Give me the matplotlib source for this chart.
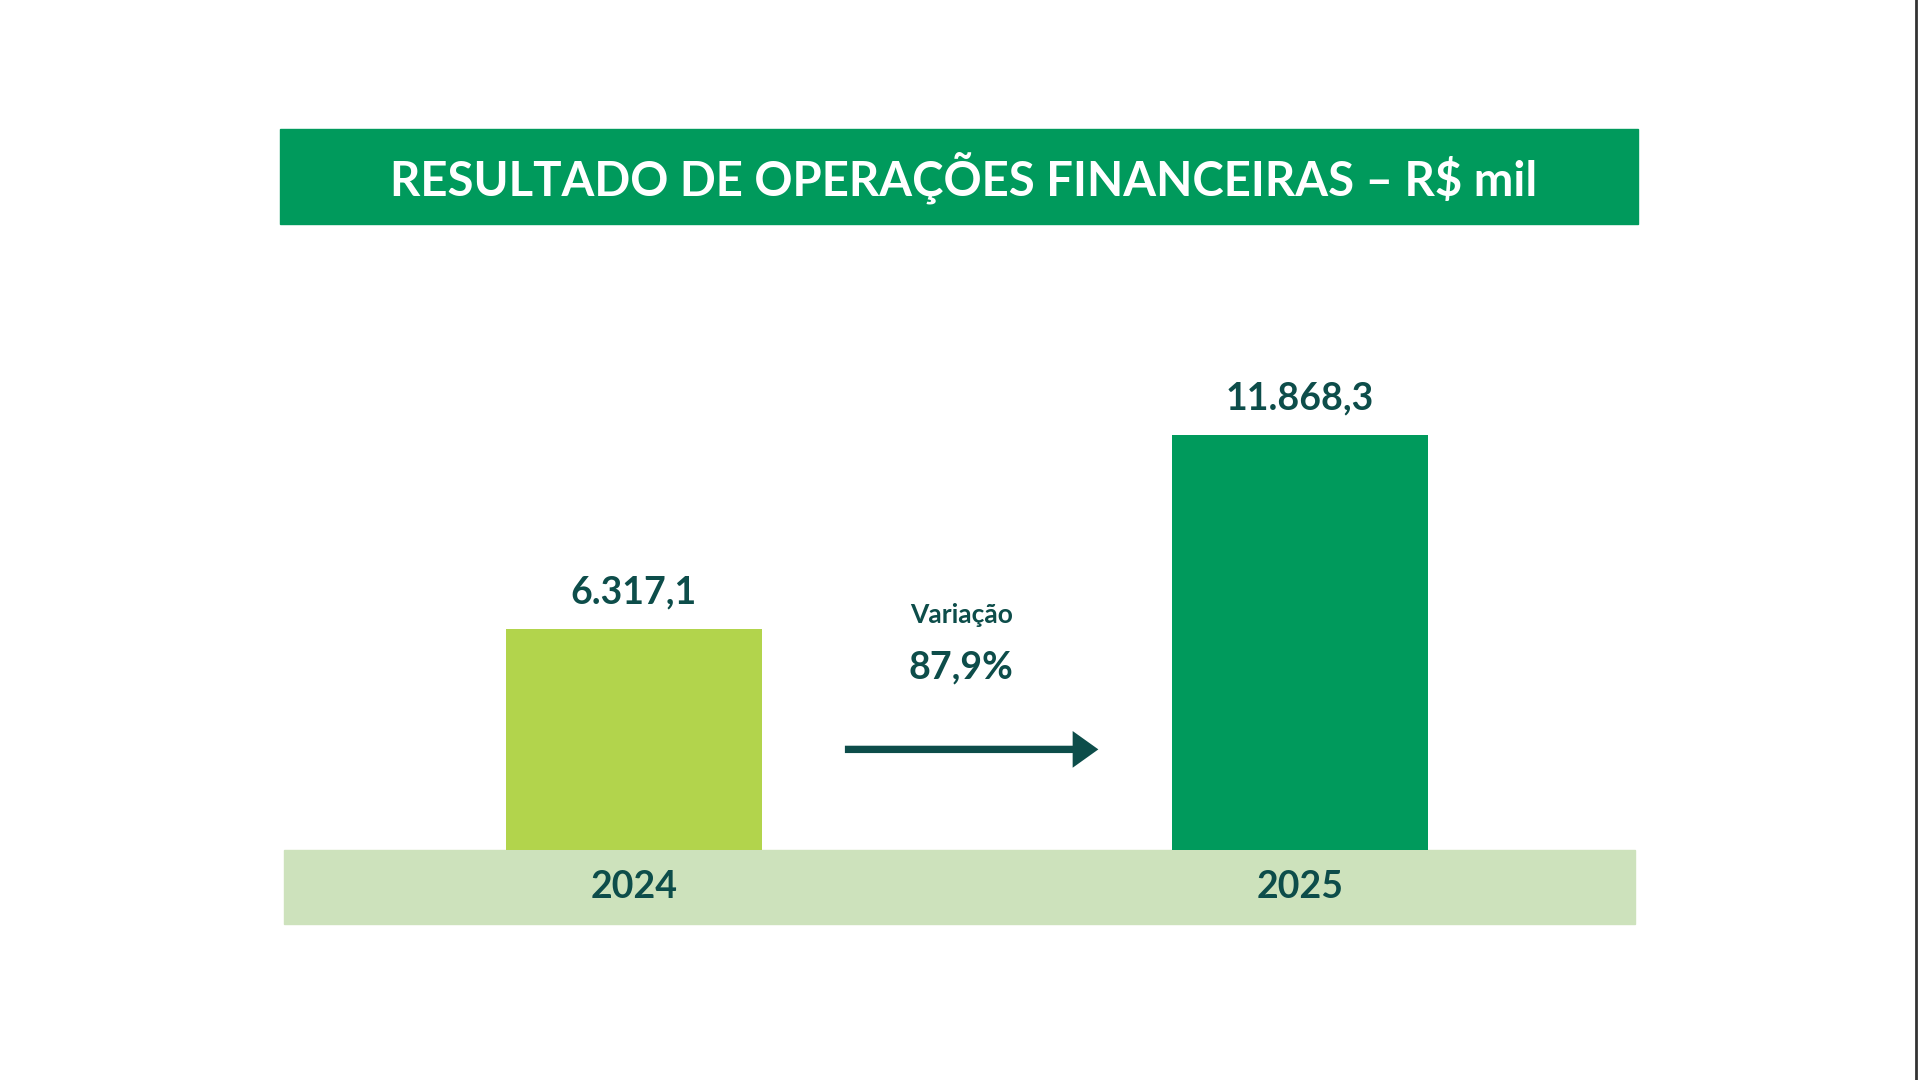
import matplotlib.pyplot as plt
from matplotlib.patches import Rectangle, FancyArrow

years = ["2024", "2025"]
values = [6317.1, 11868.3]
value_labels = ["6.317,1", "11.868,3"]
title = "RESULTADO DE OPERAÇÕES FINANCEIRAS – R$ mil"
variation = "87,9%"

GREEN = "#009a5c"
LIME = "#b2d44c"
BAND = "#cde2bc"
DARK = "#0d4d4a"
W, H = 1568, 882  # layout reference grid
plt.rcParams['font.family'] = ['Lato', 'DejaVu Sans']

fig = plt.figure(figsize=(19.2, 10.8), dpi=100)
bg = fig.add_axes([0, 0, 1, 1])
bg.set_xlim(0, W)
bg.set_ylim(H, 0)
bg.axis('off')

# title box
bg.add_patch(Rectangle((229, 105), 1109, 78, color=GREEN))
bg.text(787, 145, title, color='white', fontsize=34, fontweight='bold',
        ha='center', va='center')
# base band
bg.add_patch(Rectangle((232, 694), 1103, 61, color=BAND))
# right edge line
bg.plot([1565, 1565], [0, H], color='#333333', lw=2)

# bars
bottom_px, top_px = 694, 355
ax = fig.add_axes([232 / W, 1 - bottom_px / H, 1103 / W, (bottom_px - top_px) / H])
ax.set_xlim(-0.525, 1.503)
ax.set_ylim(0, max(values))
ax.axis('off')
bars = ax.bar([0, 1], values, width=0.384, color=[LIME, GREEN])
for b, lab in zip(bars, value_labels):
    ax.annotate(lab, (b.get_x() + b.get_width() / 2, b.get_height()),
                xytext=(0, 14), textcoords='offset points', ha='center',
                va='bottom', fontsize=27, fontweight='bold', color=DARK)
for i, y in enumerate(years):
    bg.text(517.5 + 544 * i, 724, y, ha='center', va='center',
            fontsize=27, fontweight='bold', color=DARK)

# variation
bg.text(785, 502, "Variação", ha='center', va='center', fontsize=19,
        fontweight='bold', color=DARK)
bg.text(785, 545, variation, ha='center', va='center', fontsize=27,
        fontweight='bold', color=DARK)
bg.add_patch(FancyArrow(690, 612, 186, 0, width=6, head_width=30,
                        head_length=21, length_includes_head=False,
                        color=DARK, lw=0))

fig.savefig("out.png", dpi=100)
